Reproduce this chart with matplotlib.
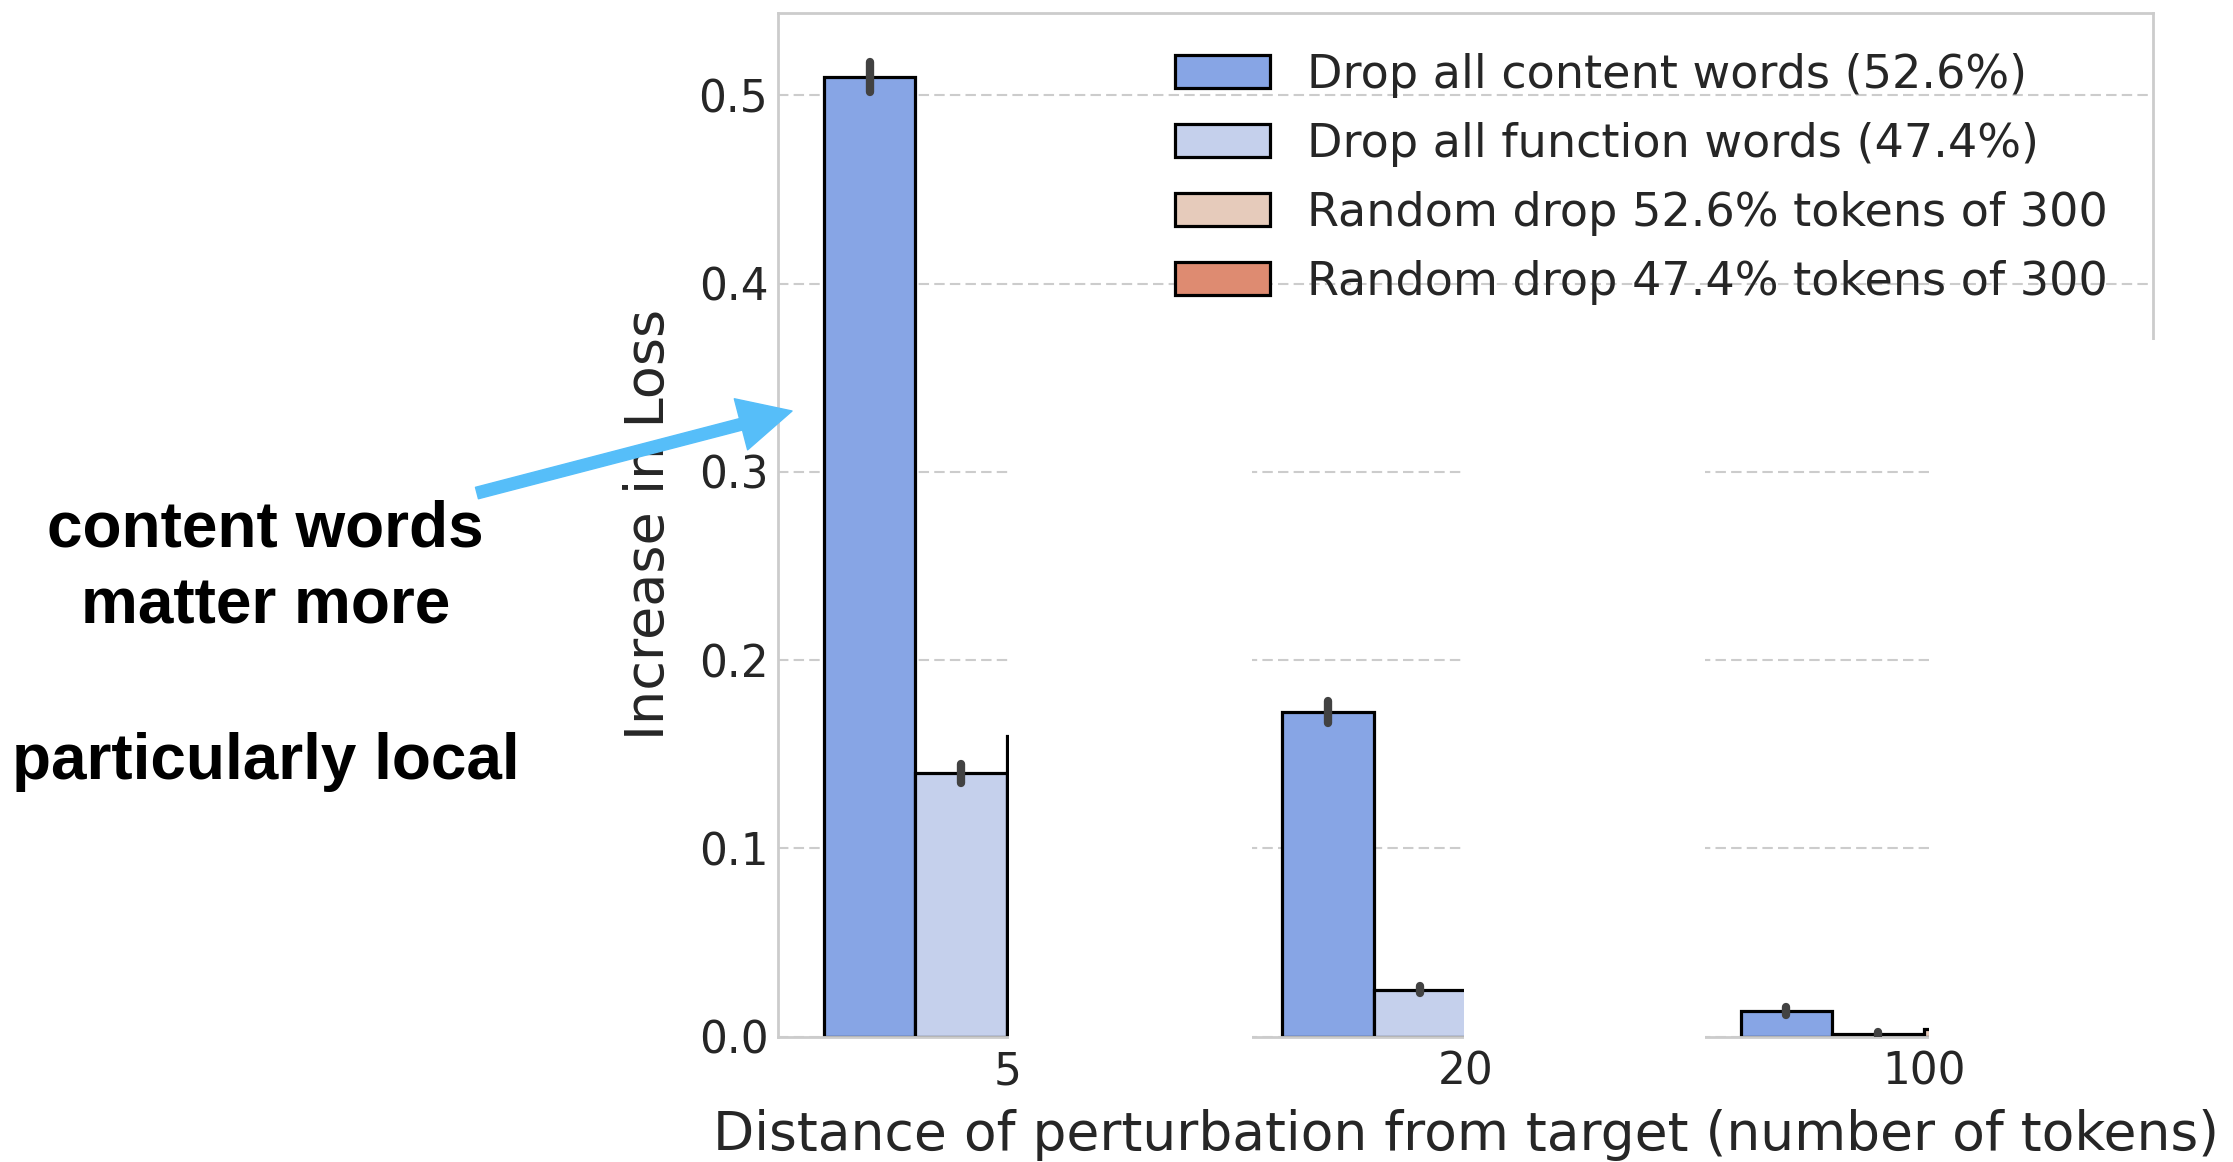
import matplotlib
matplotlib.use("Agg")
import numpy as np
from matplotlib import pyplot as plt
from matplotlib.patches import Rectangle, FancyArrowPatch, ArrowStyle

# data
distances = ['5', '20', '100']
series = ['Drop all content words (52.6%)',
          'Drop all function words (47.4%)',
          'Random drop 52.6% tokens of 300',
          'Random drop 47.4% tokens of 300']
content = [0.510, 0.1725, 0.0137]
function = [0.140, 0.025, 0.0015]
random_526 = [0.160, 0.050, 0.004]   # hidden behind white boxes on the slide
random_474 = [0.150, 0.045, 0.004]
content_err = [0.008, 0.006, 0.002]
function_err = [0.005, 0.002, 0.001]
random_526_err = [0.005, 0.003, 0.001]
random_474_err = [0.005, 0.003, 0.001]
colors = ['#87a5e5', '#c5d0ec', '#e6cbbb', '#de8b71']

plt.rcParams['font.family'] = 'DejaVu Sans'
fig = plt.figure(figsize=(22.33, 11.62), dpi=100)
ax = fig.add_axes([0.3484, 0.1078, 0.6158, 0.8813])

x = np.arange(len(distances))
w = 0.2
vals = [content, function, random_526, random_474]
errs = [content_err, function_err, random_526_err, random_474_err]
for i, (v, e) in enumerate(zip(vals, errs)):
    pos = x - 0.4 + w / 2 + i * w
    ax.bar(pos, v, width=w, color=colors[i], edgecolor='black',
           linewidth=2.3, label=series[i], zorder=2)
    lc = ax.vlines(pos, np.array(v) - np.array(e), np.array(v) + np.array(e),
                   color='#424242', linewidth=6.0, zorder=3)
    lc.set_capstyle('round')

ax.set_xlim(-0.5, 2.5)
ax.set_ylim(0, 0.544)
ax.set_xticks(x)
ax.set_xticklabels(distances)
ax.set_yticks([0.0, 0.1, 0.2, 0.3, 0.4, 0.5])
ax.set_yticklabels(['0.0', '0.1', '0.2', '0.3', '0.4', '0.5'])
ax.tick_params(length=0, labelsize=31.5, colors='#262626')
ax.tick_params(axis='x', pad=10)
ax.tick_params(axis='y', pad=7)
ax.set_axisbelow(True)
ax.grid(axis='y', color='#cccccc', linestyle=(0, (5, 2.5)), linewidth=1.5)
for s in ax.spines.values():
    s.set_color('#cccccc')
    s.set_linewidth(2)
ax.set_xlabel('Distance of perturbation from target (number of tokens)',
              fontsize=38.5, color='#262626', labelpad=11)
ax.set_ylabel('Increase in Loss', fontsize=39, color='#262626', labelpad=17)

leg = ax.legend(loc='upper left', bbox_to_anchor=(0.5262, 0.9545),
                bbox_transform=fig.transFigure, frameon=False, fontsize=33.2,
                handlelength=2.05, handleheight=0.72, handletextpad=0.82,
                labelspacing=0.52, borderpad=0, borderaxespad=0)
for t in leg.get_texts():
    t.set_color('#262626')

# white boxes that hide the random-drop bars on the slide
for x0, x1 in [(0.004, 0.535), (0.997, 1.523), (2.012, 3.2)]:
    ax.add_patch(Rectangle((x0, -0.007), x1 - x0, 0.377, facecolor='white',
                           edgecolor='none', zorder=10, clip_on=False))

# slide annotations
fig.text(0.119, 0.544, 'content words', fontsize=46, fontweight='bold',
         family='Liberation Sans', ha='center', va='center')
fig.text(0.119, 0.478, 'matter more', fontsize=46, fontweight='bold',
         family='Liberation Sans', ha='center', va='center')
fig.text(0.119, 0.344, 'particularly local', fontsize=46, fontweight='bold',
         family='Liberation Sans', ha='center', va='center')
arr = FancyArrowPatch((0.2136, 0.5757), (0.3547, 0.6463), transform=fig.transFigure,
                      arrowstyle=ArrowStyle('simple', head_length=38, head_width=38,
                                            tail_width=8.5),
                      color='#56bef9', mutation_scale=1, shrinkA=0, shrinkB=0,
                      zorder=20)
fig.add_artist(arr)

fig.savefig('out.png', dpi=100)
